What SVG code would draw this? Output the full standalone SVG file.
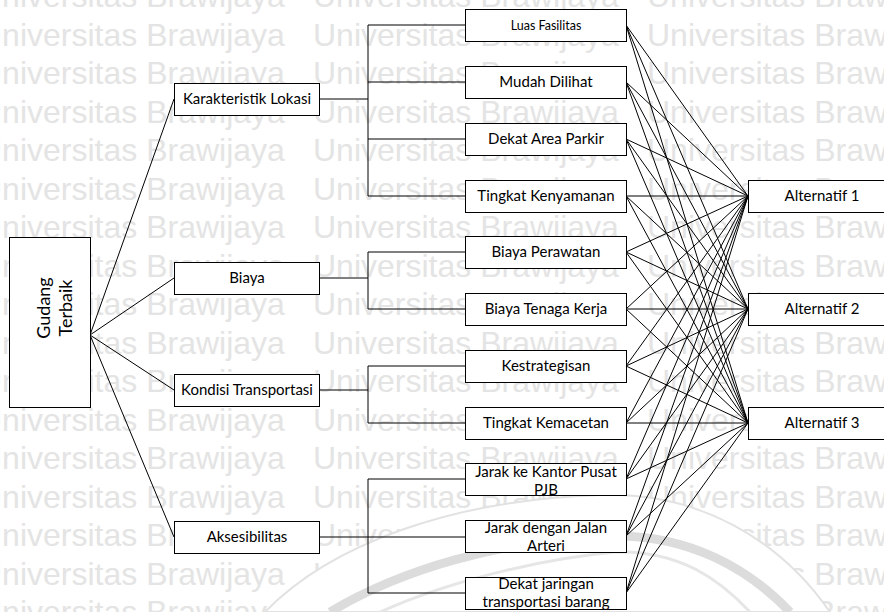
<svg xmlns="http://www.w3.org/2000/svg" width="884" height="612" viewBox="0 0 884 612">
<defs>
<style>
.wm{font-family:"Liberation Sans",Arial,sans-serif;font-size:32px;fill:#e4e4e4}
.box{fill:#ffffff;stroke:#000000;stroke-width:1}
.lbl{font-family:Lato,"Open Sans",sans-serif;font-size:15px;fill:#000000;text-anchor:middle}
.sm{font-size:12.5px}
.big{font-size:18px}
.conn line,.conn polyline{stroke:#000000;stroke-width:1;fill:none}
</style>
</defs>
<rect width="884" height="612" fill="#ffffff"/>
<g id="watermark">
<text class="wm" x="-21" y="7">Universitas Brawijaya</text><text class="wm" x="313" y="7">Universitas Brawijaya</text><text class="wm" x="647" y="7">Universitas Brawijaya</text>
<text class="wm" x="-21" y="45.5">Universitas Brawijaya</text><text class="wm" x="313" y="45.5">Universitas Brawijaya</text><text class="wm" x="647" y="45.5">Universitas Brawijaya</text>
<text class="wm" x="-21" y="84">Universitas Brawijaya</text><text class="wm" x="313" y="84">Universitas Brawijaya</text><text class="wm" x="647" y="84">Universitas Brawijaya</text>
<text class="wm" x="-21" y="122.5">Universitas Brawijaya</text><text class="wm" x="313" y="122.5">Universitas Brawijaya</text><text class="wm" x="647" y="122.5">Universitas Brawijaya</text>
<text class="wm" x="-21" y="161">Universitas Brawijaya</text><text class="wm" x="313" y="161">Universitas Brawijaya</text><text class="wm" x="647" y="161">Universitas Brawijaya</text>
<text class="wm" x="-21" y="199.5">Universitas Brawijaya</text><text class="wm" x="313" y="199.5">Universitas Brawijaya</text><text class="wm" x="647" y="199.5">Universitas Brawijaya</text>
<text class="wm" x="-21" y="238">Universitas Brawijaya</text><text class="wm" x="313" y="238">Universitas Brawijaya</text><text class="wm" x="647" y="238">Universitas Brawijaya</text>
<text class="wm" x="-21" y="276.5">Universitas Brawijaya</text><text class="wm" x="313" y="276.5">Universitas Brawijaya</text><text class="wm" x="647" y="276.5">Universitas Brawijaya</text>
<text class="wm" x="-21" y="315">Universitas Brawijaya</text><text class="wm" x="313" y="315">Universitas Brawijaya</text><text class="wm" x="647" y="315">Universitas Brawijaya</text>
<text class="wm" x="-21" y="353.5">Universitas Brawijaya</text><text class="wm" x="313" y="353.5">Universitas Brawijaya</text><text class="wm" x="647" y="353.5">Universitas Brawijaya</text>
<text class="wm" x="-21" y="392">Universitas Brawijaya</text><text class="wm" x="313" y="392">Universitas Brawijaya</text><text class="wm" x="647" y="392">Universitas Brawijaya</text>
<text class="wm" x="-21" y="430.5">Universitas Brawijaya</text><text class="wm" x="313" y="430.5">Universitas Brawijaya</text><text class="wm" x="647" y="430.5">Universitas Brawijaya</text>
<text class="wm" x="-21" y="469">Universitas Brawijaya</text><text class="wm" x="313" y="469">Universitas Brawijaya</text><text class="wm" x="647" y="469">Universitas Brawijaya</text>
<text class="wm" x="-21" y="507.5">Universitas Brawijaya</text><text class="wm" x="313" y="507.5">Universitas Brawijaya</text><text class="wm" x="647" y="507.5">Universitas Brawijaya</text>
<text class="wm" x="-21" y="546">Universitas Brawijaya</text><text class="wm" x="313" y="546">Universitas Brawijaya</text><text class="wm" x="647" y="546">Universitas Brawijaya</text>
<text class="wm" x="-21" y="584.5">Universitas Brawijaya</text><text class="wm" x="313" y="584.5">Universitas Brawijaya</text><text class="wm" x="647" y="584.5">Universitas Brawijaya</text>
<text class="wm" x="-21" y="623">Universitas Brawijaya</text><text class="wm" x="313" y="623">Universitas Brawijaya</text><text class="wm" x="647" y="623">Universitas Brawijaya</text>
<path d="M265 612 C330 545 450 500 600 495 C700 492 780 540 830 612 Z" fill="#ffffff" stroke="#e2e2e2" stroke-width="2"/>
<path d="M330 612 C400 570 500 540 610 536 C690 534 750 570 790 612" fill="none" stroke="#dcdcdc" stroke-width="9"/>
<path d="M380 612 C440 585 530 560 615 552 C680 550 720 580 750 612" fill="none" stroke="#e6e6e6" stroke-width="3"/>
</g>
<g class="conn" id="connectors">
<line x1="90" y1="335" x2="174" y2="99"/>
<line x1="90" y1="335" x2="174" y2="278"/>
<line x1="90" y1="335" x2="174" y2="390"/>
<line x1="90" y1="335" x2="174" y2="537"/>
<line x1="319" y1="99" x2="368" y2="99"/>
<polyline points="465,25 368,25 368,196 465,196"/>
<line x1="368" y1="82" x2="465" y2="82"/>
<line x1="368" y1="139" x2="465" y2="139"/>
<line x1="319" y1="278" x2="368" y2="278"/>
<polyline points="465,252 368,252 368,309 465,309"/>
<line x1="319" y1="390" x2="368" y2="390"/>
<polyline points="465,366 368,366 368,423 465,423"/>
<line x1="319" y1="537" x2="465" y2="537"/>
<polyline points="465,479 368,479 368,593 465,593"/>
<line x1="626" y1="25" x2="748" y2="196"/><line x1="626" y1="25" x2="748" y2="309"/><line x1="626" y1="25" x2="748" y2="423"/>
<line x1="626" y1="82" x2="748" y2="196"/><line x1="626" y1="82" x2="748" y2="309"/><line x1="626" y1="82" x2="748" y2="423"/>
<line x1="626" y1="139" x2="748" y2="196"/><line x1="626" y1="139" x2="748" y2="309"/><line x1="626" y1="139" x2="748" y2="423"/>
<line x1="626" y1="196" x2="748" y2="196"/><line x1="626" y1="196" x2="748" y2="309"/><line x1="626" y1="196" x2="748" y2="423"/>
<line x1="626" y1="252" x2="748" y2="196"/><line x1="626" y1="252" x2="748" y2="309"/><line x1="626" y1="252" x2="748" y2="423"/>
<line x1="626" y1="309" x2="748" y2="196"/><line x1="626" y1="309" x2="748" y2="309"/><line x1="626" y1="309" x2="748" y2="423"/>
<line x1="626" y1="366" x2="748" y2="196"/><line x1="626" y1="366" x2="748" y2="309"/><line x1="626" y1="366" x2="748" y2="423"/>
<line x1="626" y1="423" x2="748" y2="196"/><line x1="626" y1="423" x2="748" y2="309"/><line x1="626" y1="423" x2="748" y2="423"/>
<line x1="626" y1="479" x2="748" y2="196"/><line x1="626" y1="479" x2="748" y2="309"/><line x1="626" y1="479" x2="748" y2="423"/>
<line x1="626" y1="536" x2="748" y2="196"/><line x1="626" y1="536" x2="748" y2="309"/><line x1="626" y1="536" x2="748" y2="423"/>
<line x1="626" y1="593" x2="748" y2="196"/><line x1="626" y1="593" x2="748" y2="309"/><line x1="626" y1="593" x2="748" y2="423"/>
</g>
<g id="gudang"><rect class="box" x="9.5" y="237.5" width="81" height="170"/>
<text class="lbl big" transform="translate(50,308) rotate(-90)" y="0">Gudang</text>
<text class="lbl big" transform="translate(72,308) rotate(-90)" y="0">Terbaik</text></g>
<g id="karakteristik"><rect class="box" x="174.5" y="83.5" width="145" height="32"/><text class="lbl" x="247" y="104">Karakteristik Lokasi</text></g>
<g id="biaya"><rect class="box" x="174.5" y="262.5" width="145" height="32"/><text class="lbl" x="247" y="283">Biaya</text></g>
<g id="kondisi"><rect class="box" x="174.5" y="374.5" width="145" height="32"/><text class="lbl" x="247" y="395">Kondisi Transportasi</text></g>
<g id="aksesibilitas"><rect class="box" x="174.5" y="521.5" width="145" height="32"/><text class="lbl" x="247" y="542">Aksesibilitas</text></g>
<g id="luas"><rect class="box" x="465.5" y="9.5" width="161" height="32"/><text class="lbl sm" x="546" y="30">Luas Fasilitas</text></g>
<g id="mudah"><rect class="box" x="465.5" y="66.5" width="161" height="32"/><text class="lbl" x="546" y="87">Mudah Dilihat</text></g>
<g id="dekat-parkir"><rect class="box" x="465.5" y="123.5" width="161" height="32"/><text class="lbl" x="546" y="144">Dekat Area Parkir</text></g>
<g id="kenyamanan"><rect class="box" x="465.5" y="180.5" width="161" height="32"/><text class="lbl" x="546" y="201">Tingkat Kenyamanan</text></g>
<g id="perawatan"><rect class="box" x="465.5" y="236.5" width="161" height="32"/><text class="lbl" x="546" y="257">Biaya Perawatan</text></g>
<g id="tenaga"><rect class="box" x="465.5" y="293.5" width="161" height="32"/><text class="lbl" x="546" y="314">Biaya Tenaga Kerja</text></g>
<g id="kestrategisan"><rect class="box" x="465.5" y="350.5" width="161" height="32"/><text class="lbl" x="546" y="371">Kestrategisan</text></g>
<g id="kemacetan"><rect class="box" x="465.5" y="407.5" width="161" height="32"/><text class="lbl" x="546" y="428">Tingkat Kemacetan</text></g>
<g id="jarak-kantor"><rect class="box" x="465.5" y="463.5" width="161" height="32"/><text class="lbl" x="546" y="477">Jarak ke Kantor Pusat</text><text class="lbl" x="546" y="495">PJB</text></g>
<g id="jarak-jalan"><rect class="box" x="465.5" y="520.5" width="161" height="32"/><text class="lbl" x="546" y="533">Jarak dengan Jalan</text><text class="lbl" x="546" y="551">Arteri</text></g>
<g id="dekat-jaringan"><rect class="box" x="465.5" y="577.5" width="161" height="32"/><text class="lbl" x="546" y="589">Dekat jaringan</text><text class="lbl" x="546" y="607">transportasi barang</text></g>
<g id="alt1"><rect class="box" x="748.5" y="180.5" width="148" height="32"/><text class="lbl" x="822" y="201">Alternatif 1</text></g>
<g id="alt2"><rect class="box" x="748.5" y="293.5" width="148" height="32"/><text class="lbl" x="822" y="314">Alternatif 2</text></g>
<g id="alt3"><rect class="box" x="748.5" y="407.5" width="148" height="32"/><text class="lbl" x="822" y="428">Alternatif 3</text></g>
</svg>
